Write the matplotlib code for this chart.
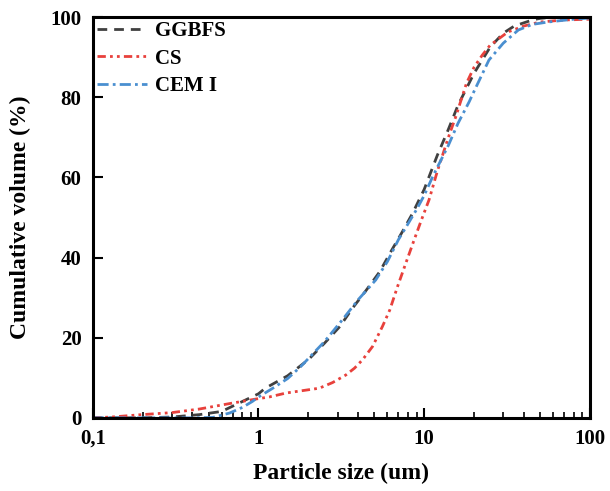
import numpy as np
import matplotlib.pyplot as plt

plt.rcParams['font.family'] = 'Liberation Serif'
plt.rcParams['font.weight'] = 'bold'

# particle size (um) and cumulative volume (%)
ggbfs_x = [0.1, 0.2, 0.3, 0.44, 0.6, 0.84, 1.0, 1.1, 1.5, 2.0, 2.5, 3.1, 3.7, 4.5, 5.4, 6.3,
           7.4, 8.5, 10, 12, 14, 16, 20, 25, 30, 35, 45, 50, 60, 80, 100]
ggbfs_y = [0, 0, 0.2, 0.8, 1.6, 4.5, 6.0, 7.4, 10.5, 14.5, 18.6, 22.8, 27.4, 32, 36.5, 41.5,
           46.5, 51, 57, 65.5, 72, 78, 86, 92.5, 96, 97.8, 99.3, 99.7, 100, 100, 100]

cs_x = [0.1, 0.13, 0.19, 0.3, 0.44, 0.7, 1.0, 1.16, 1.47, 2.33, 2.8, 3.37, 3.8, 4.25, 4.88,
        5.6, 6.2, 6.9, 7.75, 8.7, 9.55, 10.7, 12, 14, 15.5, 18, 20, 22.4, 25, 32, 40, 50, 70, 100]
cs_y = [0, 0.2, 0.75, 1.3, 2.2, 3.7, 4.8, 5.2, 6.2, 7.4, 8.8, 10.7, 12.4, 14.5, 17.8,
        22.8, 26.9, 32.7, 38.6, 44.4, 49, 54.4, 61.5, 70, 75.1, 83.5, 87.5, 90.5, 93, 96.3, 97.8,
        98.8, 99.3, 99.5]

cem_x = [0.1, 0.3, 0.4, 0.53, 0.67, 0.8, 0.92, 1.0, 1.2, 1.5, 1.8, 2.5, 3.2, 4, 5.1, 6, 7,
         7.8, 9, 10, 11.2, 12, 14, 16, 18.7, 20, 24.6, 30, 37, 45, 56, 80, 100]
cem_y = [0, 0, 0, 0.1, 1.2, 2.6, 4.1, 5.2, 7.2, 9.8, 12.8, 19, 24.4, 29.5, 34.4, 39,
         44.5, 47.7, 52, 55.5, 60, 62.5, 68, 73.5, 78.9, 81.5, 89.3, 93.5, 96.8, 98.2, 98.8,
         99.5, 99.8]

fig = plt.figure(figsize=(6.1, 4.91), dpi=100)
ax = fig.add_axes([0.152, 0.149, 0.815, 0.816])

ax.plot(ggbfs_x, ggbfs_y, color='#404040', lw=2, dashes=(3.5, 2.5), label='GGBFS')
ax.plot(cs_x, cs_y, color='#e8413c', lw=2, dashes=(3, 1.5, 1, 1.5, 1, 1.5), label='CS')
ax.plot(cem_x, cem_y, color='#4a8fd0', lw=2, dashes=(4, 1.5, 1, 1.5), label='CEM I')

ax.set_xscale('log')
ax.set_xlim(0.1, 100)
ax.set_ylim(0, 100)
ax.set_xticks([0.1, 1, 10, 100])
ax.set_xticklabels(['0,1', '1', '10', '100'])
ax.set_yticks([0, 20, 40, 60, 80, 100])
ax.tick_params(which='major', direction='in', length=7, width=1.5, labelsize=15, pad=8)
ax.tick_params(which='minor', direction='in', length=4, width=1.2)
ax.tick_params(axis='y', which='minor', left=False)
for s in ax.spines.values():
    s.set_linewidth(2.2)

ax.set_xlabel('Particle size (um)', fontsize=17, fontweight='bold', labelpad=10)
ax.set_ylabel('Cumulative volume (%)', fontsize=17, fontweight='bold', labelpad=14)
ax.legend(loc='upper left', frameon=False, fontsize=15, handlelength=2.4,
          borderaxespad=0.0, borderpad=0.2, labelspacing=0.35, handletextpad=0.4)

fig.savefig('out.png', dpi=100)
